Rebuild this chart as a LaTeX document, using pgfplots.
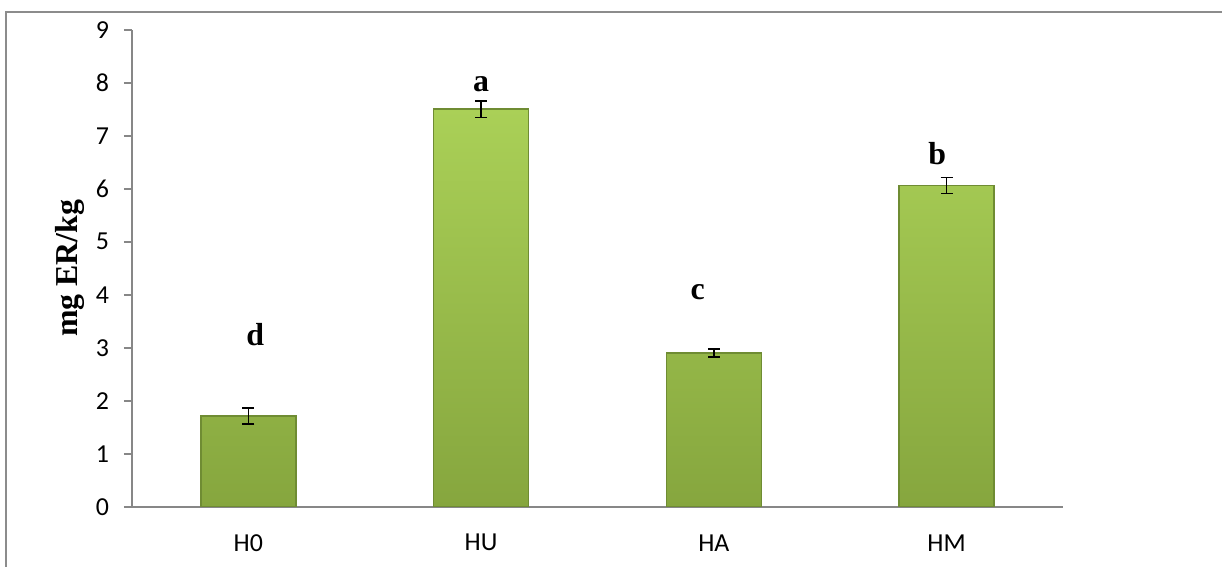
\documentclass[border=0pt]{standalone}
\usepackage{fontspec}
\setmainfont{Carlito}
\newfontfamily\serifbold{Liberation Serif}
\usepackage{pgfplots}
\pgfplotsset{compat=1.18}

\definecolor{axisgray}{HTML}{878787}
\definecolor{framegray}{HTML}{8C8C8C}
\definecolor{bartop}{HTML}{AAD057}
\definecolor{barbot}{HTML}{86A63E}
\definecolor{baredge}{HTML}{6F8C33}

\pgfplotstableread{
x  y     e
0  1.71  0.15
1  7.50  0.16
2  2.90  0.08
3  6.06  0.15
}\ertable

\begin{document}
\begin{tikzpicture}
\useasboundingbox (-66bp,-30.15bp) rectangle (545bp,253.35bp);
% chart frame
\draw[framegray, line width=1bp] (-63bp,-40bp) -- (-63bp,247.35bp) -- (560bp,247.35bp);
\begin{axis}[
  scale only axis,
  width=465.5bp, height=238.5bp,
  xmin=-0.5, xmax=3.5, ymin=0, ymax=9,
  axis x line*=bottom, axis y line*=left,
  axis line style={axisgray, line width=1bp},
  xtick={0,1,2,3}, xticklabels={H0,HU,HA,HM},
  ytick={0,1,...,9},
  tick align=outside, major tick length=4bp,
  x tick style={draw=none},
  y tick style={axisgray, line width=1bp},
  ticklabel style={font=\fontsize{13}{15}\selectfont},
  /pgf/number format/assume math mode=true,
  xticklabel style={anchor=center, yshift=-14bp},
  yticklabel style={anchor=east, xshift=-4bp},
  every axis y label/.style={at={(axis description cs:-0.0666,0.5)}, rotate=90, anchor=center},
  ylabel={\serifbold\bfseries\fontsize{16}{18}\selectfont mg ER/kg},
  clip=false,
]
\addplot[ybar, bar width=47.5bp, top color=bartop, bottom color=barbot, draw=baredge, line width=0.7bp,
  error bars/.cd, y dir=both, y explicit,
  error bar style={black, line width=0.8bp},
  error mark options={rotate=90, mark size=3bp, black, line width=0.8bp}]
  table[x=x, y=y, y error=e] {\ertable};
\begin{scope}[every node/.style={font=\serifbold\bfseries\fontsize{16}{18}\selectfont, anchor=base}]
\node at (axis cs:0.03,3.05) {d};
\node at (axis cs:1.00,7.83) {a};
\node at (axis cs:1.93,3.91) {c};
\node at (axis cs:2.96,6.46) {b};
\end{scope}
\end{axis}
\end{tikzpicture}
\end{document}
